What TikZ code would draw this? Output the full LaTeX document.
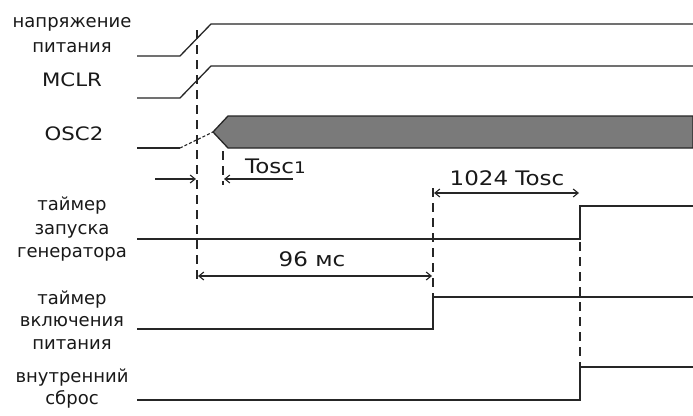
\documentclass[tikz,border=0pt]{standalone}
\usepackage{fontspec}
\setmainfont{DejaVu Sans}
\newfontfamily\widefont[FakeStretch=1.15]{DejaVu Sans}
\usetikzlibrary{arrows.meta}
\begin{document}
\begin{tikzpicture}[x=1pt,y=-1pt,
  sig/.style={line width=1.3pt, draw=black!85},
  guide/.style={line width=1.1pt, dash pattern=on 9pt off 6pt, draw=black!85},
  tip/.style={line width=1.1pt, draw=black!85, -{Straight Barb[length=5pt,width=8pt]}},
  tips/.style={line width=1.1pt, draw=black!85, {Straight Barb[length=5pt,width=8pt]}-{Straight Barb[length=5pt,width=8pt]}},
  lbl/.style={font=\fontsize{18}{#1}\selectfont, align=center, inner sep=0pt, text=black!90},
  latin/.style={font=\widefont\fontsize{18.5}{22}\selectfont, inner sep=0pt, text=black!90},
  note/.style={font=\widefont\fontsize{20}{22}\selectfont, inner sep=0pt, text=black!90},
]
\useasboundingbox (0,0) rectangle (693,415);
\fill[white] (0,0) rectangle (693,415);

% labels
\node[lbl=25] (vdd) at (72,35) {напряжение\\питания};
\node[latin] (mclr) at (72,80) {MCLR};
\node[latin] (osc) at (74,133.5) {OSC2};
\node[lbl=23.5] (ost) at (72,229.5) {таймер\\запуска\\генератора};
\node[lbl=22.5] (pwrt) at (72,320) {таймер\\включения\\питания};
\node[lbl=22] (rst) at (72,389) {внутренний\\сброс};

% waveforms
\draw[sig] (137,56) -- (180,56) -- (211,24) -- (693,24);
\draw[sig] (137,98) -- (180,98) -- (211,66) -- (693,66);
\draw[sig] (137,148) -- (180,148);
\draw[line width=1.1pt, draw=black!85, dash pattern=on 3pt off 2pt] (180,148) -- (213,132);
\draw[sig, fill=black!52] (213,132) -- (228,116) -- (693,116) -- (693,148) -- (228,148) -- cycle;
\draw[sig] (137,239) -- (580,239) -- (580,206) -- (693,206);
\draw[sig] (137,329) -- (433,329) -- (433,297) -- (693,297);
\draw[sig] (137,400) -- (580,400) -- (580,367) -- (693,367);

% guide lines
\coordinate (g1a) at (197,30);  \coordinate (g1b) at (197,279);
\coordinate (g2a) at (223,151); \coordinate (g2b) at (223,185);
\coordinate (g3a) at (433,188); \coordinate (g3b) at (433,297);
\coordinate (g4a) at (580,242); \coordinate (g4b) at (580,367);
\draw[guide] (g1a) -- (g1b);
\draw[guide] (g2a) -- (g2b);
\draw[guide] (g3a) -- (g3b);
\draw[guide] (g4a) -- (g4b);

% dimensions
\coordinate (t1l) at (155,179); \coordinate (t1le) at (196,179);
\coordinate (t1r) at (293,179); \coordinate (t1re) at (224,179);
\draw[tip] (t1l) -- (t1le);
\draw[tip] (t1r) -- (t1re);
\node[note, anchor=base west] (tosc1) at (245,173) {Tosc{\fontsize{16}{16}\selectfont 1}};

\coordinate (k1) at (434,193); \coordinate (k2) at (579,193);
\draw[tips] (k1) -- (k2);
\node[note, anchor=base] (tosc1024) at (507,185) {1024 Tosc};

\coordinate (m1) at (198,276); \coordinate (m2) at (432,276);
\draw[tips] (m1) -- (m2);
\node[note, anchor=base] (ms96) at (312,266) {96 мс};
\end{tikzpicture}
\end{document}
